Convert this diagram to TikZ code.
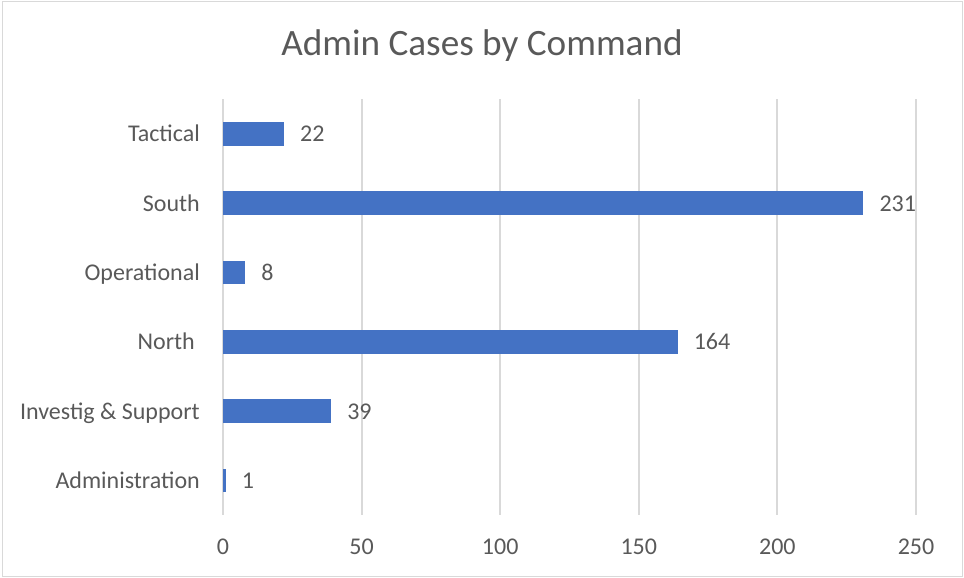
\documentclass[tikz,border=0pt]{standalone}
\usepackage{fontspec}
\setmainfont{Carlito}
\definecolor{barblue}{HTML}{4472C4}
\definecolor{txtgray}{HTML}{595959}
\definecolor{gridgray}{HTML}{D9D9D9}
\tikzset{
  frame/.style={draw=gridgray, line width=1.6pt},
  gridline/.style={draw=gridgray, line width=2pt},
  barfill/.style={fill=barblue},
  catlabel/.style={anchor=base east, text=txtgray, font=\fontsize{24}{27}\selectfont, inner sep=0pt},
  vallabel/.style={anchor=base west, text=txtgray, font=\fontsize{24}{27}\selectfont, inner sep=0pt},
  ticklabel/.style={anchor=base, text=txtgray, font=\fontsize{24}{27}\selectfont, inner sep=0pt},
  titlelabel/.style={anchor=base, text=txtgray, font=\fontsize{37.2}{42}\selectfont, inner sep=0pt}
}
\begin{document}
\begin{tikzpicture}[x=1pt,y=-1pt]
\useasboundingbox (0,0) rectangle (964,578);
\draw[frame] (2.5,1.5) rectangle (962.5,576.5);
\node[titlelabel] (title) at (482,56) {Admin Cases by Command};
\foreach \v in {0,50,100,150,200,250}{
  \draw[gridline] (223+\v*2.772,99) -- (223+\v*2.772,515);
  \node[ticklabel] (tick\v) at (223+\v*2.772,554) {\v};
}
\foreach \i/\name/\val/\yc in {1/Tactical/22/133.7, 2/South/231/203, 3/Operational/8/272.3, 4/North\kern5pt/164/341.7, 5/Investig \& Support/39/411, 6/Administration/1/480.3}{
  \fill[barfill] (223,\yc-11.8) rectangle (223+\val*2.772,\yc+11.8);
  \node[catlabel] (cat\i) at (200,\yc+8) {\name};
  \node[vallabel] (val\i) at (223+\val*2.772+16,\yc+8) {\val};
}
\end{tikzpicture}
\end{document}
